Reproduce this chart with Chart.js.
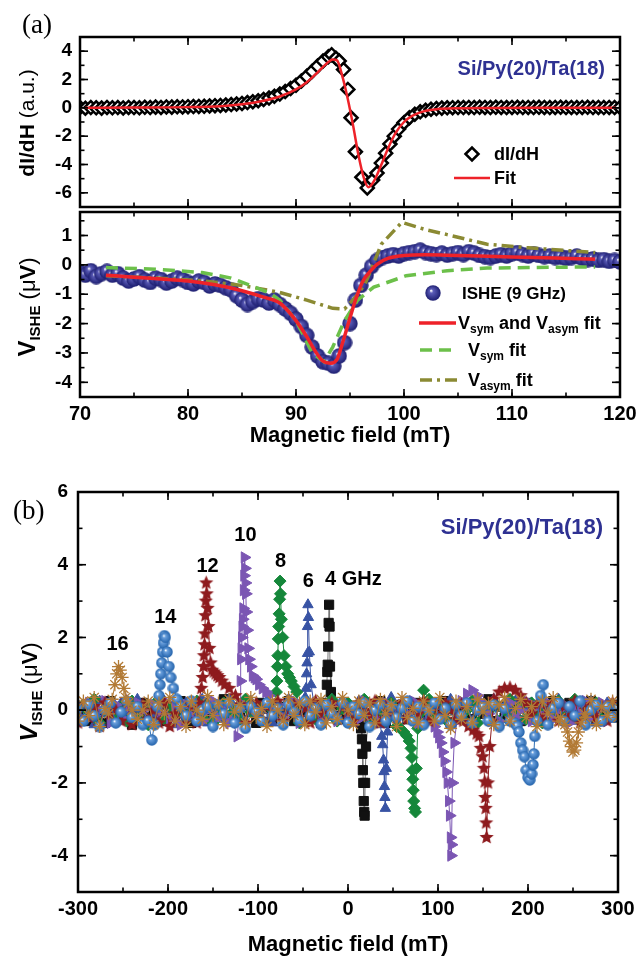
<!DOCTYPE html>
<html><head><meta charset="utf-8">
<script src="https://cdn.jsdelivr.net/npm/chart.js@4.4.1/dist/chart.umd.min.js"></script>
<style>
html,body{margin:0;padding:0;background:#fff;}
#wrap{position:relative;width:638px;height:958px;background:#fff;overflow:hidden;}
canvas{position:absolute;left:0;}
</style></head><body>
<div id="wrap">
<canvas id="ca" width="638" height="216" style="top:0px;width:638px;height:216px"></canvas>
<canvas id="cb" width="638" height="258" style="top:200px;width:638px;height:258px"></canvas>
<canvas id="cc" width="638" height="498" style="top:460px;width:638px;height:498px"></canvas>
</div>
<script>
// ---------------- Panel (a) top: dI/dH ----------------
const fieldA = [70,70.5,71,71.5,72,72.5,73,73.5,74,74.5,75,75.5,76,76.5,77,77.5,78,78.5,79,79.5,80,80.5,81,81.5,82,82.5,83,83.5,84,84.5,85,85.5,86,86.5,87,87.5,88,88.5,89,89.5,90,90.5,91,91.5,92,92.5,93,93.3,93.7,94,94.4,94.8,95.1,95.5,96.1,96.6,97.1,97.5,97.9,98.3,98.7,99.1,99.5,100,100.5,101,101.5,102,102.5,103,103.5,104,104.5,105,105.5,106,106.5,107,107.5,108,108.5,109,109.5,110,110.5,111,111.5,112,112.5,113,113.5,114,114.5,115,115.5,116,116.5,117,117.5,118,118.5,119,119.5,120];
const dIdH = [0.02,-0.03,0.02,0.0,-0.02,0.03,0.0,0.02,-0.01,0.03,
 0.02,0.0,0.04,0.02,0.05,0.03,0.06,0.05,0.07,0.06,
 0.08,0.09,0.1,0.11,0.13,0.15,0.17,0.2,0.23,0.27,
 0.31,0.37,0.43,0.5,0.59,0.69,0.82,0.97,1.15,1.36,
 1.6,1.9,2.22,2.58,2.95,3.3,3.6,
 3.75,3.5,3.3,2.7,1.3,-0.7,-3.1,-4.9,-5.65,
 -5.1,-4.6,-3.9,-3.2,-2.55,-2.0,-1.5,
 -1.05,-0.7,-0.45,-0.28,-0.17,-0.1,-0.05,-0.02,
 0.0,0.01,0.02,0.02,0.03,0.02,0.04,0.03,0.02,0.04,0.03,0.02,0.03,0.04,0.02,0.03,0.02,0.04,0.03,0.02,0.03,0.04,0.02,0.03,0.02,0.03,0.04,0.02,0.03,0.02,0.03,0.02,0.03];
const fitAField = [70.5,75,80,83,85,87,88.5,90,91,92,92.8,93.4,93.8,94.3,94.8,95.3,95.8,96.3,96.7,97.2,97.8,98.5,99.2,100,100.8,101.8,103,105,108,112,116,119.6];
const fitAV = [0.01,0.02,0.05,0.12,0.25,0.5,0.8,1.3,1.8,2.5,3.1,3.42,3.35,2.2,0.6,-1.3,-3.4,-5.0,-5.6,-5.2,-4.2,-2.9,-1.8,-1.0,-0.55,-0.25,-0.1,-0.03,-0.01,0,0,0];
const yTicksA = [-6,-4,-2,0,2,4];

// ---------------- Panel (a) bottom: ISHE 9 GHz ----------------
const fieldMid = [70,70.5,71,71.5,72,72.5,73,73.5,74,74.5,75,75.5,76,76.5,77,77.5,78,78.5,79,79.5,80,80.5,81,81.5,82,82.5,83,83.5,84,84.5,85,85.5,86,86.5,87,87.5,88,88.5,89,89.5,90,90.5,91,91.5,92,92.5,93,93.5,94,94.5,95,95.5,96,96.5,97,97.5,98,98.5,99,99.5,100,100.5,101,101.5,102,102.5,103,103.5,104,104.5,105,105.5,106,106.5,107,107.5,108,108.5,109,109.5,110,110.5,111,111.5,112,112.5,113,113.5,114,114.5,115,115.5,116,116.5,117,117.5,118,118.5,119,119.5,120];
const vIshe = [-0.25,-0.35,-0.2,-0.4,-0.3,-0.22,-0.35,-0.3,-0.45,-0.55,
 -0.48,-0.4,-0.52,-0.6,-0.45,-0.5,-0.62,-0.55,-0.45,-0.5,
 -0.6,-0.65,-0.55,-0.6,-0.72,-0.65,-0.7,-0.78,-0.85,-1.05,
 -1.2,-1.35,-1.25,-1.15,-1.2,-1.3,-1.2,-1.35,-1.5,-1.65,
 -1.85,-2.1,-2.4,-2.8,-3.1,-3.3,-3.35,-3.45,-3.1,-2.65,
 -2.0,-1.2,-0.7,-0.35,-0.05,0.15,0.25,0.3,0.35,0.3,
 0.38,0.42,0.45,0.5,0.42,0.38,0.35,0.4,0.33,0.38,
 0.42,0.35,0.45,0.4,0.32,0.28,0.25,0.3,0.35,0.3,
 0.38,0.42,0.35,0.3,0.38,0.32,0.28,0.3,0.25,0.28,
 0.22,0.25,0.3,0.22,0.18,0.2,0.15,0.18,0.12,0.15,
 0.1];
const fitMidField = [72.4,75,77.5,80,82.5,85,87,88.5,90,91,91.8,92.5,93.2,93.8,94.4,95,95.6,96.2,96.8,97.5,98.5,100,102,104,107,110,113,116,117.7];
const fitMidV = [-0.35,-0.42,-0.48,-0.55,-0.68,-0.88,-1.1,-1.3,-1.9,-2.45,-2.95,-3.28,-3.35,-3.22,-2.55,-1.8,-1.1,-0.55,-0.25,0.02,0.22,0.32,0.34,0.33,0.3,0.27,0.24,0.21,0.19];
const symField = [72.4,77,81.3,84,85.8,87.5,88.5,90,91.5,92.6,93.4,94.5,95.7,97.2,100.2,104,107.7,111.5,117.7];
const symV = [-0.09,-0.15,-0.26,-0.45,-0.7,-0.95,-1.2,-1.9,-3.0,-3.3,-2.8,-1.9,-1.2,-0.76,-0.37,-0.2,-0.11,-0.09,-0.07];
const asymField = [72.4,77,81.3,85,88.5,91,93.4,94.5,95.5,96.4,97.9,99.8,102,104,107.7,111.5,117.7];
const asymV = [-0.37,-0.45,-0.54,-0.7,-0.94,-1.2,-1.48,-1.5,-1.1,-0.65,0.7,1.45,1.2,1.03,0.7,0.58,0.42];
const yTicksMid = [-4,-3,-2,-1,0,1];
const xTicksMid = [70,80,90,100,110,120];

// ---------------- Panel (b): frequencies ----------------
const gridB = [-300,-294,-288,-282,-276,-270,-264,-258,-252,-246,
 -240,-234,-228,-222,-216,-210,-204,-198,-192,-186,
 -180,-174,-168,-162,-156,-150,-144,-138,-132,-126,
 -120,-114,-108,-102,-96,-90,-84,-78,-72,-66,
 -60,-54,-48,-42,-36,-30,-24,-18,-12,-6,
 0,6,12,18,24,30,36,42,48,54,
 60,66,72,78,84,90,96,102,108,114,
 120,126,132,138,144,150,156,162,168,174,
 180,186,192,198,204,210,216,222,228,234,
 240,246,252,258,264,270,276,282,288,294,
 300];
const base4 = [-0.15,0.1,-0.3,0.2,-0.05,-0.35,0.25,-0.1,-0.25,0.15,
 -0.4,0.05,0.2,-0.2,0.0,0.15,-0.3,0.1,-0.15,0.25,
 -0.1,-0.35,0.1,0.2,-0.25,0.05,-0.15,0.3,-0.3,0.0,
 -0.2,0.15,-0.05,-0.35,0.2,0.05,-0.25,0.1,-0.1,0.25,
 -0.3,0.15,-0.05,-0.2,0.1,-0.35,0.05,0.25,-0.15,-0.25,
 0.1,0.0,-0.3,0.2,-0.05,-0.2,0.25,-0.35,0.05,-0.1,
 0.15,-0.25,0.0,0.2,-0.3,-0.05,0.1,-0.2,0.25,-0.35,
 0.05,-0.15,0.2,-0.25,0.0,-0.1,0.3,-0.3,0.1,-0.2,
 0.15,-0.05,-0.3,0.2,0.0,-0.2,0.1,-0.35,0.25,-0.1,
 0.0,0.2,-0.25,0.1,-0.15,0.25,-0.3,0.05,-0.1,0.15,
 -0.2];
const base6 = [0.15,-0.25,0.0,-0.4,0.25,-0.1,0.1,-0.3,0.2,-0.2,
 0.0,0.3,-0.35,0.1,-0.15,-0.25,0.25,0.0,-0.4,0.15,
 0.2,-0.2,-0.05,0.3,-0.35,0.1,0.0,-0.25,0.3,-0.15,
 0.05,-0.3,0.25,-0.1,0.0,0.2,-0.35,0.1,-0.2,0.3,
 0.0,-0.25,0.15,-0.4,0.2,0.05,-0.2,0.3,-0.25,0.0,
 0.15,-0.35,0.25,-0.05,-0.25,0.2,0.0,-0.3,0.35,-0.1,
 0.05,-0.25,0.2,0.0,-0.35,0.25,-0.1,0.1,-0.25,0.3,
 -0.05,-0.2,0.15,-0.3,0.2,0.0,-0.15,0.3,-0.35,0.1,
 -0.1,0.25,-0.3,0.05,0.2,-0.2,0.0,-0.4,0.15,0.3,
 -0.15,0.1,-0.3,0.2,-0.05,0.25,-0.35,0.05,0.2,-0.2,
 0.1];
const base8 = [-0.25,0.15,-0.05,0.3,-0.35,0.0,0.2,-0.2,0.1,-0.3,
 0.25,-0.15,0.05,-0.4,0.15,0.3,-0.25,0.05,-0.1,0.2,
 -0.3,0.0,0.25,-0.2,0.15,-0.35,0.1,0.2,-0.15,0.0,
 -0.25,0.3,-0.05,0.15,-0.3,0.2,0.0,-0.2,0.25,-0.1,
 0.1,-0.35,0.2,0.0,-0.25,0.15,-0.1,0.3,-0.3,0.05,
 0.2,-0.2,0.0,0.3,-0.25,0.1,-0.05,-0.3,0.2,0.0,
 -0.15,0.25,-0.3,0.1,0.55,0.3,-0.1,0.2,-0.25,0.05,
 0.15,-0.2,0.0,0.25,-0.35,0.1,-0.05,0.2,-0.3,0.0,
 0.3,-0.15,0.1,-0.25,0.2,0.0,-0.35,0.15,-0.1,0.25,
 -0.2,0.05,0.3,-0.3,0.1,-0.15,0.2,-0.25,0.0,0.15,
 -0.1];
const base10 = [0.1,-0.3,0.2,-0.15,0.0,0.25,-0.35,0.15,-0.2,0.05,
 -0.25,0.2,0.0,-0.3,0.15,-0.05,0.25,-0.25,0.1,-0.4,
 0.15,-0.15,0.2,-0.3,0.0,0.25,-0.2,0.1,-0.35,0.15,
 0.0,-0.25,0.2,-0.1,0.3,-0.3,0.05,0.15,-0.2,0.0,
 0.25,-0.35,0.1,-0.05,0.2,-0.25,0.0,0.15,-0.3,0.2,
 -0.1,0.05,-0.25,0.25,-0.15,0.1,-0.3,0.2,0.0,-0.2,
 0.15,-0.1,0.25,-0.35,0.05,0.0,-0.2,0.2,-0.25,0.1,
 -0.05,0.25,0.45,0.55,0.4,0.2,-0.1,0.15,-0.3,0.05,
 0.2,-0.2,0.0,0.25,-0.3,0.1,-0.15,0.2,-0.25,0.0,
 0.15,-0.35,0.1,-0.05,0.25,-0.2,0.0,0.2,-0.3,0.1,
 -0.15];
const base12 = [-0.35,0.15,-0.2,0.1,-0.45,0.2,-0.1,0.0,-0.3,0.25,
 -0.4,0.05,0.15,-0.25,0.0,-0.35,0.2,-0.45,-0.1,0.15,
 -0.25,0.1,-0.35,0.2,-0.15,0.0,0.25,-0.3,0.05,-0.2,
 0.15,-0.35,0.0,0.2,-0.25,0.1,-0.15,0.25,-0.3,0.0,
 0.15,-0.2,0.05,-0.35,0.25,-0.1,0.0,0.2,-0.25,0.1,
 -0.05,-0.3,0.2,0.0,-0.15,0.25,-0.35,0.1,0.0,-0.2,
 0.2,-0.25,0.1,-0.1,0.25,-0.3,0.05,-0.15,0.2,0.0,
 -0.25,0.15,-0.1,0.2,-0.3,0.05,-0.2,0.3,0.5,0.6,
 0.62,0.55,0.4,0.2,-0.1,0.15,-0.25,0.05,0.2,-0.3,
 0.1,-0.15,0.25,-0.35,0.0,0.15,-0.2,0.1,-0.3,0.2,
 -0.1];
const base14 = [0.05,-0.3,0.15,-0.15,-0.45,0.0,0.2,-0.35,-0.05,0.25,
 -0.2,0.1,-0.4,0.05,0.2,-0.3,-0.05,0.15,-0.45,0.1,
 -0.15,0.25,-0.3,0.0,0.1,-0.45,0.15,-0.1,0.2,-0.35,
 0.05,-0.5,0.1,-0.05,-0.3,0.2,-0.15,0.05,-0.4,0.15,
 -0.05,-0.3,0.25,-0.15,0.05,-0.4,0.15,-0.1,-0.25,0.2,
 -0.35,0.1,-0.1,0.2,-0.45,0.0,0.15,-0.3,0.1,-0.2,
 0.05,0.25,-0.3,0.1,-0.4,0.0,0.2,-0.25,0.05,-0.4,
 0.15,-0.15,0.2,-0.35,0.0,0.1,-0.3,0.15,-0.45,0.05,
 -0.2,0.2,-0.1,-0.35,0.1,-0.25,0.15,-0.4,0.05,0.2,
 -0.3,0.1,-0.15,0.25,-0.4,0.0,0.15,-0.3,0.1,-0.2,
 0.05];
const base16 = [-0.3,0.25,-0.15,0.35,-0.45,0.05,0.3,-0.35,0.15,-0.2,
 0.4,-0.25,0.0,0.25,-0.4,0.2,-0.1,0.35,-0.3,0.1,
 -0.45,0.25,0.0,-0.25,0.4,-0.15,0.2,-0.4,0.3,-0.05,
 0.15,-0.35,0.35,-0.2,0.05,-0.45,0.25,0.0,-0.3,0.35,
 -0.15,0.2,-0.4,0.25,-0.05,0.3,-0.35,0.1,-0.25,0.35,
 0.0,-0.4,0.25,-0.15,0.2,-0.35,0.3,-0.1,0.15,-0.45,
 0.35,-0.2,0.05,-0.35,0.25,0.0,-0.3,0.35,-0.15,-0.5,
 0.25,-0.25,0.1,-0.35,0.3,-0.05,0.2,-0.4,0.15,0.35,
 -0.3,0.05,0.3,-0.2,0.1,-0.45,0.25,-0.1,0.35,-0.3,
 0.0,0.25,-0.35,0.15,-0.2,0.3,-0.4,0.1,-0.15,0.25,
 -0.2];

const p4posX = [-25,-23.5,-23,-22.5,-22,-21.5,-21,-20.5,-20,-19,-17];
const p4posY = [0.2,0.7,1.05,1.25,1.75,2.4,2.9,2.3,1.2,0.5,0.15];
const p4negX = [13,14.5,15.5,16,16.5,17,17.5,18,18.5,19,20,22,25];
const p4negY = [-0.1,-0.5,-0.8,-1.2,-1.65,-2.0,-2.5,-2.8,-2.9,-2.0,-1.0,-0.4,-0.1];
const p6posX = [-49,-47.5,-46.5,-46,-45.5,-45,-45,-44.5,-44,-43,-41,-38];
const p6posY = [0.1,0.35,0.6,1.0,1.3,1.56,2.3,2.9,2.55,1.6,0.7,0.2];
const p6negX = [34,36,37.5,38.5,39.5,40,40.5,41,41.5,42.5,44,47];
const p6negY = [-0.2,-0.4,-0.72,-0.95,-1.37,-1.69,-2.1,-2.4,-2.7,-1.6,-0.6,-0.2];
const p8posX = [-81,-80,-79.5,-79,-78.5,-78,-77.5,-77,-76.5,-76,-75.5,-75,-74,-72.5,-71,-69,-67,-65,-63,-60,-57];
const p8posY = [0.0,0.2,0.5,0.8,1.2,1.5,1.96,2.3,2.65,3.05,3.55,3.2,2.5,2.0,1.5,1.2,1.0,0.9,0.8,0.65,0.5];
const p8negX = [54,58,62,65,68,70,71,71.5,72,72.5,73,74,75,76,77.5,80];
const p8negY = [-0.45,-0.5,-0.6,-0.7,-0.85,-1.05,-1.3,-1.65,-1.9,-2.2,-2.5,-2.7,-2.8,-1.6,-0.5,-0.1];
const p10posX = [-128,-123,-120,-119.5,-119,-118.5,-118,-117.5,-117,-116.5,-116,-115.5,-115,-114.5,-114,-113.5,-113,-112,-111,-110,-108,-106,-104,-102,-99,-95,-91,-88];
const p10posY = [-0.3,-0.72,0.2,0.8,1.4,1.7,2.0,2.3,2.5,2.8,3.3,3.7,4.2,3.9,3.5,3.2,2.7,2.2,1.7,1.4,1.2,0.95,0.9,0.85,0.7,0.6,0.5,0.4];
const p10negX = [90,96,99,101,103,105,107,109,110.5,112,113,114,114.5,115,116,118,121];
const p10negY = [-0.3,-0.45,-0.6,-0.75,-0.9,-1.15,-1.4,-1.7,-2.0,-2.5,-2.9,-3.5,-4.0,-3.7,-2.0,-0.9,-0.3];
const p12posX = [-166,-163,-161.5,-160.5,-160,-159.5,-159,-158.5,-158,-157.5,-157,-156,-155,-154,-152.5,-151,-149,-147,-145,-143,-140,-137,-132,-125];
const p12posY = [0.2,0.6,0.9,1.2,1.5,1.8,2.1,2.6,3.0,3.5,3.2,2.8,2.3,1.7,1.3,1.1,1.05,1.0,0.95,0.9,0.8,0.7,0.6,0.4];
const p12negX = [128,134,139,143,145.5,147.5,149.5,151,152,152.5,153,153.5,154,155.5,157.5,160];
const p12negY = [-0.3,-0.45,-0.55,-0.65,-0.72,-1.05,-1.28,-1.6,-1.97,-2.4,-2.7,-3.1,-3.5,-2.0,-1.0,-0.3];
const p14posX = [-222,-218,-215,-212,-210,-209,-208,-207,-206,-205,-204,-203,-201,-199,-197,-194,-190];
const p14posY = [-0.3,-0.82,-0.4,0.1,0.4,0.7,1.0,1.3,1.6,1.85,2.05,2.0,1.6,1.2,0.9,0.6,0.3];
const p14negX = [180,185,188,190,192,194,196,198,200,202,204,205.5,206.5,207.5,210,214,217];
const p14negY = [-0.3,-0.35,-0.44,-0.6,-0.9,-1.1,-1.28,-1.65,-1.85,-1.92,-1.75,-1.5,-1.2,-0.72,-0.3,0.4,0.7];
const p16posX = [-266,-262,-259,-257,-255,-253,-251,-249,-247,-244,-240];
const p16posY = [-0.1,0.3,0.7,1.0,1.2,1.1,0.9,0.6,0.35,0.2,0.0];
const p16negX = [236,241,244,246,248,250,252,254,256,259,263];
const p16negY = [-0.2,-0.4,-0.6,-0.85,-1.0,-1.15,-1.1,-0.9,-0.6,-0.35,-0.1];

const freqLabels = ['16','14','12','10','8','6','4 GHz'];
const freqLabelX = [-256,-203,-156,-114,-75,-44,6];
const freqLabelY = [1.8,2.55,3.95,4.8,4.1,3.55,3.6];
const yTicksB = [-4,-2,0,2,4,6];
const xTicksB = [-300,-200,-100,0,100,200,300];

// ---------------- helpers ----------------
const FONT = "'Liberation Sans', Arial, Helvetica, sans-serif";
Chart.defaults.font.family = FONT;
Chart.defaults.color = '#000';
const zip = (xs, ys) => xs.map((x, i) => ({x, y: ys[i]}));
function seriesB(base, peaks) {
  const wins = peaks.map(([xs]) => [Math.min(...xs), Math.max(...xs)]);
  const pts = [];
  gridB.forEach((x, i) => {
    if (i < base.length && !wins.some(([a, b]) => x >= a && x <= b)) pts.push({x, y: base[i]});
  });
  peaks.forEach(([xs, ys]) => xs.forEach((x, i) => pts.push({x, y: ys[i]})));
  return pts.sort((p, q) => p.x - q.x);
}
function sphere(d, base, mid) {
  const c = document.createElement('canvas'); c.width = c.height = d;
  const g = c.getContext('2d'); const r = d / 2;
  const grd = g.createRadialGradient(r * 0.75, r * 0.7, 0.3, r, r, r);
  grd.addColorStop(0, '#ffffff'); grd.addColorStop(0.22, mid); grd.addColorStop(1, base);
  g.fillStyle = grd; g.beginPath(); g.arc(r, r, r - 0.3, 0, Math.PI * 2); g.fill();
  return c;
}
function starImg(r, color) {
  const d = Math.ceil(2 * r + 2); const c = document.createElement('canvas'); c.width = c.height = d;
  const g = c.getContext('2d'); g.fillStyle = color; g.beginPath();
  for (let i = 0; i < 10; i++) { const a = -Math.PI / 2 + i * Math.PI / 5; const rr = i % 2 ? r * 0.45 : r; g.lineTo(d / 2 + rr * Math.cos(a), d / 2 + rr * Math.sin(a)); }
  g.closePath(); g.fill(); return c;
}
const navySphere = sphere(16, '#1b1c6e', '#5b5cb8');
const blueSphere = sphere(12, '#1f5fa8', '#6aa0dd');
const redStar = starImg(7.5, '#8e1b1e');

const frameTicks = {
  id: 'frameTicks',
  afterDraw(chart, args, o) {
    const {ctx, chartArea: a, scales: {x, y}} = chart;
    ctx.save(); ctx.strokeStyle = '#000'; ctx.lineWidth = 1.6;
    const seg = (x1, y1, x2, y2) => { ctx.beginPath(); ctx.moveTo(x1, y1); ctx.lineTo(x2, y2); ctx.stroke(); };
    const marks = (scale, step, len, horiz) => {
      const start = Math.ceil(scale.min / step - 1e-9) * step;
      for (let k = 0; start + k * step <= scale.max + 1e-9; k++) {
        const p = scale.getPixelForValue(start + k * step);
        if (horiz) { seg(p, a.bottom, p, a.bottom - len); seg(p, a.top, p, a.top + len); }
        else { seg(a.left, p, a.left + len, p); seg(a.right, p, a.right - len, p); }
      }
    };
    marks(x, o.xMinor, 4.5, true); marks(x, o.xMajor, 8, true);
    marks(y, o.yMinor, 4.5, false); marks(y, o.yMajor, 8, false);
    ctx.lineWidth = 2.5; ctx.strokeRect(a.left, a.top, a.right - a.left, a.bottom - a.top);
    ctx.restore();
  }
};
function rich(ctx, parts, x, y) {
  let cx = x;
  for (const p of parts) { ctx.font = p.f; ctx.fillText(p.t, cx, y + (p.dy || 0)); cx += ctx.measureText(p.t).width; }
  return cx - x;
}
function richWidth(ctx, parts) { let w = 0; for (const p of parts) { ctx.font = p.f; w += ctx.measureText(p.t).width; } return w; }
function vTitle(ctx, parts, cx, cy) {
  ctx.save(); ctx.translate(cx, cy); ctx.rotate(-Math.PI / 2);
  ctx.textBaseline = 'alphabetic'; ctx.fillStyle = '#000';
  const w = richWidth(ctx, parts); rich(ctx, parts, -w / 2, 8); ctx.restore();
}
const B = s => `bold ${s}px ${FONT}`;
const N = s => `${s}px ${FONT}`;
const yScale = (min, max, ticks, w, pad) => ({
  type: 'linear', min, max,
  grid: {display: false, drawTicks: false}, border: {display: false},
  ticks: {font: {size: 19, weight: 'bold'}, color: '#000', padding: pad},
  afterBuildTicks: s => { s.ticks = ticks.map(v => ({value: v})); },
  afterFit: s => { s.width = w; s.paddingTop = 0; s.paddingBottom = 0; }
});
const xScale = (min, max, ticks, h, showLabels) => ({
  type: 'linear', min, max,
  grid: {display: false, drawTicks: false}, border: {display: false},
  ticks: {display: showLabels, font: {size: 20, weight: 'bold'}, color: '#000', padding: 5, maxRotation: 0},
  title: {display: showLabels, text: 'Magnetic field (mT)', font: {size: 22, weight: 'bold', lineHeight: 1}, padding: 0, color: '#000'},
  afterBuildTicks: s => { if (ticks) s.ticks = ticks.map(v => ({value: v})); },
  afterFit: s => { s.height = h; s.paddingLeft = 0; s.paddingRight = 0; }
});
const common = {responsive: false, animation: false, events: [], plugins: {legend: {display: false}, tooltip: {enabled: false}}};

// ---------------- Chart (a) top ----------------
new Chart(document.getElementById('ca'), {
  type: 'scatter',
  data: {datasets: [
    {label: 'Fit', data: zip(fitAField, fitAV), showLine: true, borderColor: '#ee2229', borderWidth: 2.5, pointRadius: 0, cubicInterpolationMode: 'monotone', order: 0},
    {label: 'dI/dH', data: zip(fieldA, dIdH), showLine: false, pointStyle: 'rectRot', pointRadius: 6.5, borderColor: '#000', backgroundColor: '#fff', borderWidth: 2.5, order: 1}
  ]},
  options: Object.assign({}, common, {
    layout: {padding: {left: 0, right: 18, top: 37, bottom: 0}},
    plugins: Object.assign({}, common.plugins, {frameTicks: {xMajor: 10, xMinor: 5, yMajor: 2, yMinor: 1}}),
    scales: {x: xScale(70, 120, null, 3, false), y: yScale(-7, 5, yTicksA, 80, 8)}
  }),
  plugins: [frameTicks, {
    id: 'annA',
    afterDraw(chart) {
      const ctx = chart.ctx; ctx.save();
      ctx.fillStyle = '#000'; ctx.textBaseline = 'middle';
      ctx.font = `27px 'Liberation Serif', 'Times New Roman', serif`; ctx.fillText('(a)', 22, 26);
      vTitle(ctx, [{t: 'dI/dH', f: B(21)}, {t: ' (a.u.)', f: N(21)}], 26, 123);
      ctx.fillStyle = '#2e3192'; ctx.font = B(20); ctx.textAlign = 'right'; ctx.fillText('Si/Py(20)/Ta(18)', 605, 69);
      ctx.textAlign = 'left'; ctx.fillStyle = '#000';
      ctx.beginPath(); ctx.moveTo(465.5, 154); ctx.lineTo(472, 147.5); ctx.lineTo(478.5, 154); ctx.lineTo(472, 160.5); ctx.closePath();
      ctx.fillStyle = '#fff'; ctx.fill(); ctx.lineWidth = 2.5; ctx.strokeStyle = '#000'; ctx.stroke();
      ctx.fillStyle = '#000'; ctx.font = B(18); ctx.fillText('dI/dH', 494, 155);
      ctx.strokeStyle = '#ee2229'; ctx.lineWidth = 2.5; ctx.beginPath(); ctx.moveTo(454, 178); ctx.lineTo(490, 178); ctx.stroke();
      ctx.fillText('Fit', 494, 179);
      ctx.restore();
    }
  }]
});

// ---------------- Chart (a) bottom ----------------
new Chart(document.getElementById('cb'), {
  type: 'scatter',
  data: {datasets: [
    {label: 'Vsym and Vasym fit', data: zip(fitMidField, fitMidV), showLine: true, borderColor: '#ee2229', borderWidth: 3.5, pointRadius: 0, cubicInterpolationMode: 'monotone', order: 1},
    {label: 'Vsym fit', data: zip(symField, symV), showLine: true, borderColor: '#6cc04a', borderWidth: 3.5, borderDash: [12, 7], pointRadius: 0, order: 2},
    {label: 'Vasym fit', data: zip(asymField, asymV), showLine: true, borderColor: '#8b8a33', borderWidth: 3.5, borderDash: [12, 5, 3, 5], pointRadius: 0, order: 3},
    {label: 'ISHE (9 GHz)', data: zip(fieldMid, vIshe), showLine: false, pointStyle: navySphere, pointRadius: 8, order: 4}
  ]},
  options: Object.assign({}, common, {
    layout: {padding: {left: 0, right: 18, top: 12, bottom: 11}},
    plugins: Object.assign({}, common.plugins, {frameTicks: {xMajor: 10, xMinor: 5, yMajor: 1, yMinor: 0.5}}),
    scales: {x: xScale(70, 120, xTicksMid, 50, true), y: yScale(-4.5, 1.8, yTicksMid, 80, 8)}
  }),
  plugins: [frameTicks, {
    id: 'annB',
    afterDraw(chart) {
      const ctx = chart.ctx; ctx.save(); ctx.fillStyle = '#000';
      vTitle(ctx, [{t: 'V', f: B(24)}, {t: 'ISHE', f: B(15), dy: 5}, {t: ' (', f: N(22)}, {t: 'μ', f: N(22)}, {t: 'V', f: B(22)}, {t: ')', f: N(22)}], 27, 107);
      ctx.textBaseline = 'alphabetic';
      ctx.drawImage(navySphere, 433 - 8, 93 - 8);
      rich(ctx, [{t: 'ISHE (9 GHz)', f: B(17)}], 462, 99);
      ctx.lineWidth = 3.5;
      ctx.strokeStyle = '#ee2229'; ctx.beginPath(); ctx.moveTo(419, 123); ctx.lineTo(456, 123); ctx.stroke();
      rich(ctx, [{t: 'V', f: B(18)}, {t: 'sym', f: B(12), dy: 4}, {t: ' and V', f: B(18)}, {t: 'asym', f: B(12), dy: 4}, {t: ' fit', f: B(18)}], 458, 129);
      ctx.strokeStyle = '#6cc04a'; ctx.setLineDash([12, 7]); ctx.beginPath(); ctx.moveTo(420, 150); ctx.lineTo(458, 150); ctx.stroke();
      rich(ctx, [{t: 'V', f: B(18)}, {t: 'sym', f: B(12), dy: 4}, {t: ' fit', f: B(18)}], 468, 156);
      ctx.strokeStyle = '#8b8a33'; ctx.setLineDash([12, 5, 3, 5]); ctx.beginPath(); ctx.moveTo(420, 180); ctx.lineTo(460, 180); ctx.stroke();
      rich(ctx, [{t: 'V', f: B(18)}, {t: 'asym', f: B(12), dy: 4}, {t: ' fit', f: B(18)}], 468, 186);
      ctx.restore();
    }
  }]
});

// ---------------- Chart (b) ----------------
const ds = (label, data, color, extra, order) => Object.assign({label, data, showLine: true, borderColor: color, backgroundColor: color, borderWidth: 1, pointBorderWidth: 1, pointBorderColor: color, pointBackgroundColor: color, order}, extra);
new Chart(document.getElementById('cc'), {
  type: 'scatter',
  data: {datasets: [
    ds('16 GHz', seriesB(base16, [[p16posX, p16posY], [p16negX, p16negY]]), '#b27a35', {pointStyle: 'star', pointRadius: 6.5, pointBorderWidth: 1.3}, 0),
    ds('14 GHz', seriesB(base14, [[p14posX, p14posY], [p14negX, p14negY]]), '#2f6fb4', {pointStyle: blueSphere, pointRadius: 6}, 1),
    ds('12 GHz', seriesB(base12, [[p12posX, p12posY], [p12negX, p12negY]]), '#8e1b1e', {pointStyle: redStar, pointRadius: 7.5}, 2),
    ds('10 GHz', seriesB(base10, [[p10posX, p10posY], [p10negX, p10negY]]), '#7b56b3', {pointStyle: 'triangle', pointRotation: 90, pointRadius: 6.5}, 3),
    ds('8 GHz', seriesB(base8, [[p8posX, p8posY], [p8negX, p8negY]]), '#15873a', {pointStyle: 'rectRot', pointRadius: 6}, 4),
    ds('6 GHz', seriesB(base6, [[p6posX, p6posY], [p6negX, p6negY]]), '#3853a4', {pointStyle: 'triangle', pointRadius: 6}, 5),
    ds('4 GHz', seriesB(base4, [[p4posX, p4posY], [p4negX, p4negY]]), '#111111', {pointStyle: 'rect', pointRadius: 6.5, borderColor: '#777'}, 6)
  ]},
  options: Object.assign({}, common, {
    layout: {padding: {left: 0, right: 20, top: 32, bottom: 2}},
    plugins: Object.assign({}, common.plugins, {frameTicks: {xMajor: 100, xMinor: 50, yMajor: 2, yMinor: 1}}),
    scales: {x: xScale(-300, 300, xTicksB, 64, true), y: yScale(-5, 6, yTicksB, 78, 10)}
  }),
  plugins: [frameTicks, {
    id: 'annC',
    afterDraw(chart) {
      const {ctx, scales: {x, y}} = chart; ctx.save(); ctx.fillStyle = '#000';
      ctx.textBaseline = 'middle';
      ctx.font = `27px 'Liberation Serif', 'Times New Roman', serif`; ctx.fillText('(b)', 13, 52);
      vTitle(ctx, [{t: 'V', f: `italic bold 24px ${FONT}`}, {t: 'ISHE', f: B(15), dy: 5}, {t: ' (', f: N(22)}, {t: 'μ', f: N(22)}, {t: 'V', f: B(22)}, {t: ')', f: N(22)}], 29, 232);
      ctx.fillStyle = '#2e3192'; ctx.font = B(22); ctx.textAlign = 'right'; ctx.fillText('Si/Py(20)/Ta(18)', 603, 68);
      ctx.fillStyle = '#000'; ctx.font = B(20); ctx.textAlign = 'center';
      freqLabels.forEach((t, i) => ctx.fillText(t, x.getPixelForValue(freqLabelX[i]), y.getPixelForValue(freqLabelY[i])));
      ctx.restore();
    }
  }]
});
</script>
</body></html>
